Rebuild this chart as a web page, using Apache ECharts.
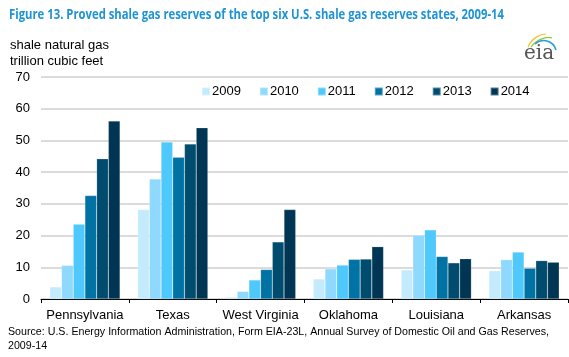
<!DOCTYPE html>
<html>
<head>
<meta charset="utf-8">
<script src="https://cdn.jsdelivr.net/npm/echarts@6/dist/echarts.min.js"></script>
<style>html,body{margin:0;padding:0;background:#fff}#c{width:569px;height:357px}</style>
</head>
<body>
<div id="c"></div>
<script>
const categories = ['Pennsylvania', 'Texas', 'West Virginia', 'Oklahoma', 'Louisiana', 'Arkansas'];
const years = ['2009', '2010', '2011', '2012', '2013', '2014'];
const v2009 = [3.8, 28.2, 0.6, 6.3, 9.2, 8.9];
const v2010 = [10.6, 37.8, 2.4, 9.5, 20.1, 12.4];
const v2011 = [23.6, 49.5, 6.0, 10.7, 21.8, 14.8];
const v2012 = [32.6, 44.7, 9.3, 12.5, 13.4, 9.7];
const v2013 = [44.2, 48.9, 18.0, 12.6, 11.4, 12.1];
const v2014 = [56.1, 54.0, 28.2, 16.5, 12.7, 11.6];
const yTicks = [0, 10, 20, 30, 40, 50, 60, 70];
const seriesValues = [v2009, v2010, v2011, v2012, v2013, v2014];
const colors = ['#c4ebfd', '#8ed9fd', '#4fc8fc', '#0072a3', '#004c6e', '#003654'];

const titleText = 'Figure 13. Proved shale gas reserves of the top six U.S. shale gas reserves states, 2009-14';
const titleFont = 'bold 14px "Open Sans", sans-serif';
const sourceText = 'Source: U.S. Energy Information Administration, Form EIA-23L, Annual Survey of Domestic Oil and Gas Reserves,';
const font = 'Liberation Sans, Arial, sans-serif';
const sourceFont = '11px ' + font;
const mctx = document.createElement('canvas').getContext('2d');
mctx.font = titleFont;
const titleScale = 495 / mctx.measureText(titleText).width;
mctx.font = sourceFont;
const sourceScale = Math.min(1, 541 / mctx.measureText(sourceText).width);

const chart = echarts.init(document.getElementById('c'), null, {renderer: 'canvas'});
chart.setOption({
  animation: false,
  textStyle: {fontFamily: font},
  legend: {
    data: years,
    top: 80, left: 196,
    itemWidth: 8, itemHeight: 8, itemGap: 18,
    icon: 'rect',
    textStyle: {fontFamily: font, fontSize: 13, color: '#000', padding: [0, 0, 0, -3]}
  },
  grid: {left: 41, right: 1, top: 77, bottom: 58, containLabel: false},
  xAxis: {
    type: 'category', data: categories,
    axisLine: {lineStyle: {color: '#000', width: 1}},
    axisTick: {show: true, length: 4, lineStyle: {color: '#000'}},
    axisLabel: {fontSize: 13, color: '#000', margin: 10, fontFamily: font, interval: 0, hideOverlap: false}
  },
  yAxis: {
    type: 'value', min: yTicks[0], max: yTicks[yTicks.length - 1], interval: 10,
    axisLine: {show: false}, axisTick: {show: false},
    axisLabel: {fontSize: 13, color: '#000', margin: 11, fontFamily: font},
    splitLine: {lineStyle: {color: '#cfcfcf', width: 1.5}}
  },
  series: years.map((y, i) => ({
    name: y, type: 'bar', data: seriesValues[i],
    barGap: '0%', barCategoryGap: '20%',
    itemStyle: {color: colors[i], borderColor: 'rgba(255,255,255,0.35)', borderWidth: 0.5}
  })),
  graphic: [
    {type: 'text', x: 9, y: 8, scaleX: titleScale, style: {text: titleText, font: titleFont, fill: '#1e93d6'}},
    {type: 'text', left: 10, top: 39, style: {text: 'shale natural gas', font: '13px ' + font, fill: '#000'}},
    {type: 'text', left: 10, top: 55, style: {text: 'trillion cubic feet', font: '13px ' + font, fill: '#000'}},
    {type: 'text', x: 8, y: 325, scaleX: sourceScale, style: {text: sourceText + '\n2009-14', font: sourceFont, fill: '#000', lineHeight: 14}},
    {type: 'text', left: 524, top: 44, style: {text: 'eia', font: '20px "DejaVu Serif", "Liberation Serif", serif', fill: '#555'}},
    {type: 'bezierCurve', shape: {x1: 528, y1: 47, x2: 546, y2: 34, cpx1: 532, cpy1: 38, cpx2: 540, cpy2: 34}, style: {stroke: '#f2c431', lineWidth: 1.2, fill: null}},
    {type: 'bezierCurve', shape: {x1: 531, y1: 47, x2: 552, y2: 38, cpx1: 536, cpy1: 40, cpx2: 546, cpy2: 36}, style: {stroke: '#8cc63f', lineWidth: 1.2, fill: null}},
    {type: 'bezierCurve', shape: {x1: 535, y1: 44, x2: 556, y2: 50, cpx1: 542, cpy1: 38, cpx2: 553, cpy2: 40}, style: {stroke: '#2b9fd8', lineWidth: 1.6, fill: null}}
  ]
});
</script>
</body>
</html>
